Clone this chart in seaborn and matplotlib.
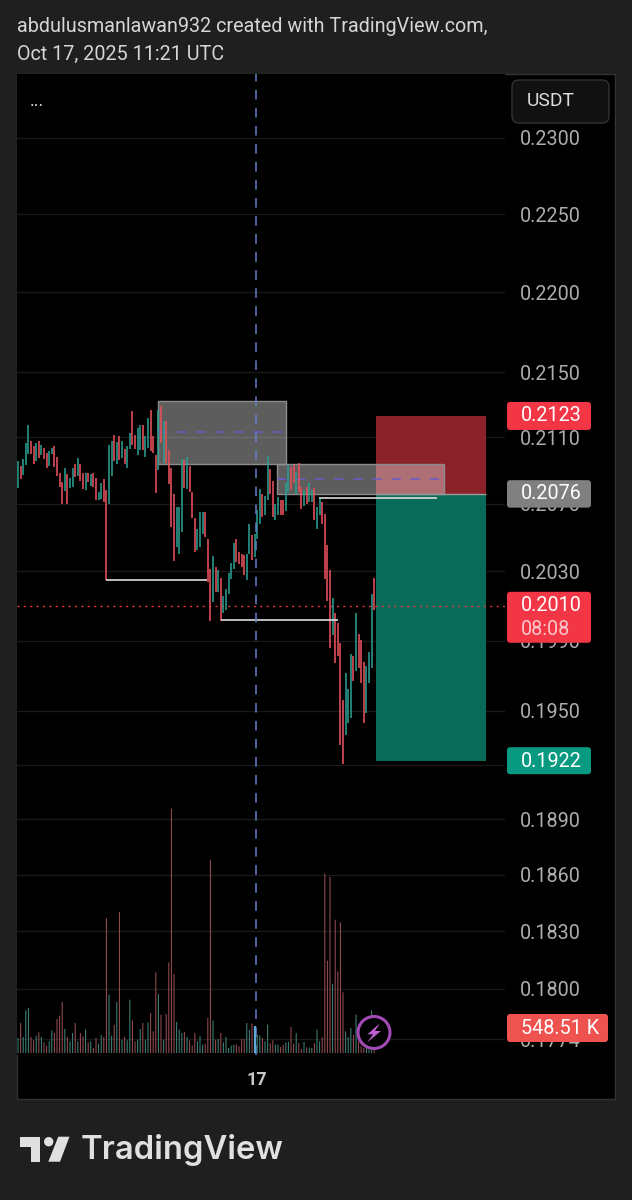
import matplotlib
matplotlib.use("Agg")
import matplotlib.pyplot as plt
from matplotlib.patches import Rectangle, FancyBboxPatch, Circle, Polygon
from matplotlib.ticker import NullLocator
from matplotlib.transforms import Affine2D
import numpy as np
import pandas as pd
import seaborn as sns

#%% Data
candle_high = [
    .20958, .20927, .20968, .21065, .21177, .21075, .21045, .21065, .21075, .21055,
    .21035, .21004, .21014, .21033, .21045, .20978, .20883, .20832, .20913, .20876,
    .20856, .20913, .20937, .20974, .20937, .20883, .20883, .20883, .20876, .20883,
    .20856, .20771, .20826, .20846, .20781, .21055, .21075, .21116, .21071, .21106,
    .21075, .21029, .21045, .21126, .21258, .21116, .21157, .21177, .21177, .21106,
    .21217, .21268, .21106, .20994, .21268, .21289, .21197, .21197, .21025, .20913,
    .20757, .20680, .20680, .20970, .20964, .20980, .20927, .20771, .20617, .20552,
    .20651, .20651, .20651, .20493, .20316, .20389, .20326, .20310, .20263, .20158,
    .20198, .20290, .20350, .20464, .20493, .20415, .20405, .20395, .20405, .20582,
    .20513, .20523, .20661, .20785, .20757, .20744, .20984, .20907, .20838, .20700,
    .20740, .20720, .20720, .20826, .20933, .20923, .20933, .20887, .20947, .20801,
    .20781, .20801, .20822, .20781, .20791, .20680, .20730, .20710, .20640, .20454,
    .20310, .20148, .20061, .20000, .19886, .19563, .19715, .19624, .19823, .19814,
    .20061, .19939, .19905, .19776, .19753, .19833, .20168, .20263,
]
candle_low = [
    .20791, .20846, .20872, .20933, .21000, .21000, .20939, .20954, .20974, .20994,
    .20968, .20917, .20927, .21000, .20923, .20866, .20801, .20700, .20775, .20700,
    .20791, .20801, .20858, .20866, .20838, .20785, .20781, .20832, .20805, .20801,
    .20724, .20720, .20730, .20710, .20700, .20700, .20866, .20954, .20939, .20960,
    .20974, .20939, .20917, .21029, .21055, .21029, .20994, .21025, .21025, .20978,
    .21035, .21014, .21004, .20765, .20903, .21065, .20943, .20943, .20818, .20562,
    .20361, .20444, .20405, .20533, .20791, .20785, .20771, .20612, .20415, .20428,
    .20444, .20523, .20503, .20237, .20015, .20123, .20178, .20178, .20015, .20061,
    .20076, .20168, .20257, .20316, .20355, .20346, .20326, .20277, .20251, .20405,
    .20369, .20385, .20493, .20582, .20621, .20631, .20720, .20757, .20621, .20602,
    .20631, .20631, .20631, .20657, .20771, .20781, .20822, .20757, .20771, .20670,
    .20684, .20700, .20710, .20710, .20602, .20552, .20631, .20582, .20257, .20129,
    .19857, .19933, .19772, .19810, .19312, .19202, .19364, .19434, .19459, .19668,
    .19725, .19744, .19658, .19434, .19487, .19658, .19744, .20076,
]
candle_dir = list(
    "GRGGGRRGRG" "RRGGRRRRGR" "GGRGRRGRGR" "RGGRRGGRGR" "GRGGRRGGRG"
    "GRRRGRGRRR" "RGGGRGRRRG" "GGRRRGRGRG" "GGGGRRRRGG" "RGGGRGGRRG"
    "GRRGGRRGRR" "GRGGRGGRRR" "RGRRRRGGGR" "GRRRGGGR"
)
volume_k = [
    315, 630, 336, 896, 945, 336, 266, 364, 434, 336,
    224, 154, 245, 476, 420, 714, 784, 1071, 504, 336,
    245, 420, 630, 245, 420, 350, 490, 224, 252, 105,
    315, 196, 378, 336, 2835, 1225, 364, 595, 1071, 2961,
    280, 336, 266, 1120, 686, 245, 280, 504, 630, 280,
    644, 840, 455, 1694, 1239, 805, 280, 819, 1904, 5131,
    1659, 651, 490, 420, 441, 336, 266, 161, 420, 245,
    350, 175, 196, 735, 4060, 679, 280, 294, 420, 224,
    336, 105, 154, 175, 175, 140, 294, 294, 630, 490,
    616, 420, 385, 364, 315, 245, 595, 210, 266, 175,
    175, 126, 175, 224, 231, 546, 196, 420, 210, 84,
    231, 119, 119, 105, 210, 490, 245, 336, 3766, 1939,
    3696, 1456, 2800, 1715, 2744, 1274, 455, 336, 525, 385,
    805, 245, 140, 105, 105, 70, 896, 548.51,
]
price_ticks = [.2300, .2250, .2200, .2150, .2110, .2070, .2030, .1990, .1950,
               .1920, .1890, .1860, .1830, .1800, .1774]
tick_labels = [f"{p:.4f}" for p in price_ticks]

stop_price = 0.2123
entry_price = 0.2076
target_price = 0.1922
last_price = 0.2010
last_volume = "548.51 K"
countdown = "08:08"

# zones: left bar, right bar, top price, bottom price
zone_upper = [53.8, 103.0, 0.21323, 0.20940]
zone_lower = [99.6, 163.8, 0.20940, 0.20760]
position_bars = [137.7, 180.0]
cursor_bar = 91.5
# swing lines: start bar, end bar, price
swing_lines = [[33.8, 72.7, 0.2025], [78.0, 123.0, 0.20018], [115.8, 161.2, 0.20733]]

#%% Colours
BG = "#1f1f1f"
RED = "#e8505b"
TEAL = "#2a9d8f"
TEXT = "#adadad"

sns.set_theme(style="dark")
plt.rcParams["font.family"] = ["Roboto", "DejaVu Sans"]

fig = plt.figure(figsize=(6.32, 12), dpi=100, facecolor=BG)
PX = Affine2D().scale(1, -1).translate(0, 1200)  # pixel space, y going down
AX_RECT = [17 / 632, (1200 - 1055) / 1200, 488 / 632, 981 / 1200]

ax = fig.add_axes(AX_RECT, facecolor="black")
fig.add_artist(Rectangle((17, 73.5), 598, 1025.5, transform=PX, fc="black", ec="#333333", lw=1, zorder=-1))

#%% Candles, one short line per bar
bars = np.arange(len(candle_high))
candles = pd.DataFrame({
    "bar": np.concatenate([bars, bars]),
    "price": candle_high + candle_low,
    "dir": candle_dir + candle_dir,
})
sns.lineplot(data=candles, x="bar", y="price", hue="dir", units="bar", estimator=None,
             palette={"G": TEAL, "R": RED}, linewidth=1.15, legend=False, ax=ax, zorder=3,
             solid_capstyle="butt")

ax.set_yscale("log")
ax.set_ylim(0.17660, 0.23428)
ax.set_xlim(-0.385, 187.3)
ax.set_yticks(price_ticks)
ax.set_yticklabels(tick_labels)
ax.yaxis.set_minor_locator(NullLocator())
ax.yaxis.tick_right()
ax.set_xticks([91.9])
ax.set_xticklabels(["17"], color="#c8c8c8", fontsize=13, fontweight="bold")
ax.set_xlabel("")
ax.set_ylabel("")
ax.tick_params(axis="y", length=0, pad=10.8, labelsize=14.2, labelcolor=TEXT)
ax.tick_params(axis="x", length=0, pad=11.5)
ax.grid(axis="y", color="#191919", lw=1)
ax.grid(axis="x", visible=False)
for s in ax.spines.values():
    s.set_visible(False)

#%% Volume on its own linear scale
vol_ax = fig.add_axes(AX_RECT, facecolor="none")
sns.barplot(x=bars, y=volume_k, hue=candle_dir, palette={"G": "#3f8479", "R": "#964e52"},
            native_scale=True, dodge=False, width=0.4, legend=False, ax=vol_ax, zorder=2,
            saturation=1, edgecolor="none", linewidth=0)
for p in vol_ax.patches:
    p.set_snap(False)  # snapped bars of under a pixel drop out at random
vol_ax.set_ylim(-42, 20559)
vol_ax.set_xlim(-0.385, 187.3)
vol_ax.axis("off")
vol_ax.vlines(91, 0, 560, color="#5fa8d8", lw=1.6)

#%% Position and zones
ax.add_patch(Rectangle((position_bars[0], entry_price), position_bars[1] - position_bars[0],
                       stop_price - entry_price, fc="#8c2229", ec="none", zorder=1))
ax.add_patch(Rectangle((position_bars[0], target_price), position_bars[1] - position_bars[0],
                       entry_price - target_price, fc="#086b5a", ec="none", zorder=1))
ax.hlines(entry_price, position_bars[0], position_bars[1], color="#9a9a9a", lw=1, zorder=1.2)
for z in (zone_upper, zone_lower):
    ax.add_patch(Rectangle((z[0], z[3]), z[1] - z[0], z[2] - z[3], fc=(0.87, 0.87, 0.87, 0.42),
                           ec="#8c8c8c", lw=1, zorder=1.1))
    ax.hlines(np.sqrt(z[2] * z[3]), z[0], z[1], color="#6a5acd", lw=1.1,
              linestyle=(0, (6, 6.5)), zorder=1.3)

for x0, x1, p in swing_lines:
    ax.hlines(p, x0, x1, color="#dcdcdc", lw=1.2, zorder=4)
ax.vlines(swing_lines[0][0], swing_lines[0][2], candle_low[34], color=RED, lw=1.15, zorder=3)

ax.axvline(cursor_bar, color="#6480c8", lw=1.1, linestyle=(0, (6.3, 5.5)), zorder=4)
ax.axhline(last_price, color="#f23645", lw=1, linestyle=(0, (1.4, 3.2)), zorder=2.5)


def price_y(p):
    return 1200 - ax.transData.transform((0, p))[1]


def badge(y0, y1, color, x1=591):
    fig.add_artist(FancyBboxPatch((507, y0), x1 - 507, y1 - y0, boxstyle="round,pad=0,rounding_size=3",
                                  transform=PX, fc=color, ec="none", zorder=5))


def label(x, y, s, color="white", size=14.2, **kw):
    fig.text(x, y, s, transform=PX, color=color, fontsize=size, va="center", zorder=6, **kw)


#%% Price badges
yy = price_y(stop_price)
badge(yy - 14, yy + 14, "#f23645")
label(521, yy, f"{stop_price:.4f}")
yy = price_y(entry_price)
badge(yy - 13.5, yy + 14, "#808080")
label(521, yy, f"{entry_price:.4f}")
yy = price_y(last_price)
badge(yy - 14, yy + 37, "#f23645")
label(521, yy, f"{last_price:.4f}")
label(521, yy + 24, countdown, color="#fbc5cb")
yy = price_y(target_price)
badge(yy - 14, yy + 13, "#089981")
label(521, yy, f"{target_price:.4f}")
badge(1014, 1042, "#ef5350", x1=608)
label(521, 1028, last_volume)

#%% USDT button and the dots
fig.add_artist(FancyBboxPatch((512, 80), 97, 43, boxstyle="round,pad=0,rounding_size=7", transform=PX,
                              fc="#111111", ec="#333333", lw=1, zorder=5))
label(527, 101, "USDT", color="#dcdcdc", size=13.8)
label(30, 101, "...", color="#d8d8d8", size=13)

#%% Lightning button
fig.add_artist(Circle((374, 1032.5), 16, transform=PX, fc="black", ec="#a24bb5", lw=2.2, zorder=5))
fig.add_artist(Polygon([(380, 1023), (367.5, 1034.3), (373, 1034.3), (367, 1042.5), (381, 1031), (375, 1031)],
                       transform=PX, fc="#c05fd2", ec="none", zorder=6))

#%% Header and logo
label(17, 27, "abdulusmanlawan932 created with TradingView.com,", color="#d6d6d6", size=14.2)
label(17, 54, "Oct 17, 2025 11:21 UTC", color="#d6d6d6", size=14.2)

LOGO = "#e0e0e0"
fig.add_artist(Polygon([(20, 1136.7), (40, 1136.7), (40, 1161.7), (30.7, 1161.7), (30.7, 1146.7), (20, 1146.7)],
                       transform=PX, fc=LOGO, ec="none"))
fig.add_artist(Circle((48.7, 1141.7), 4.7, transform=PX, fc=LOGO, ec="none"))
fig.add_artist(Polygon([(58.3, 1136.7), (69.5, 1136.7), (60, 1161.7), (48.3, 1161.7)],
                       transform=PX, fc=LOGO, ec="none"))
fig.text(81, 1149.5, "TradingView", transform=PX, color=LOGO, fontsize=23.6, va="center",
         family=["Inter", "DejaVu Sans"], fontweight="semibold")

fig.savefig("out.png", dpi=100, facecolor=BG)
